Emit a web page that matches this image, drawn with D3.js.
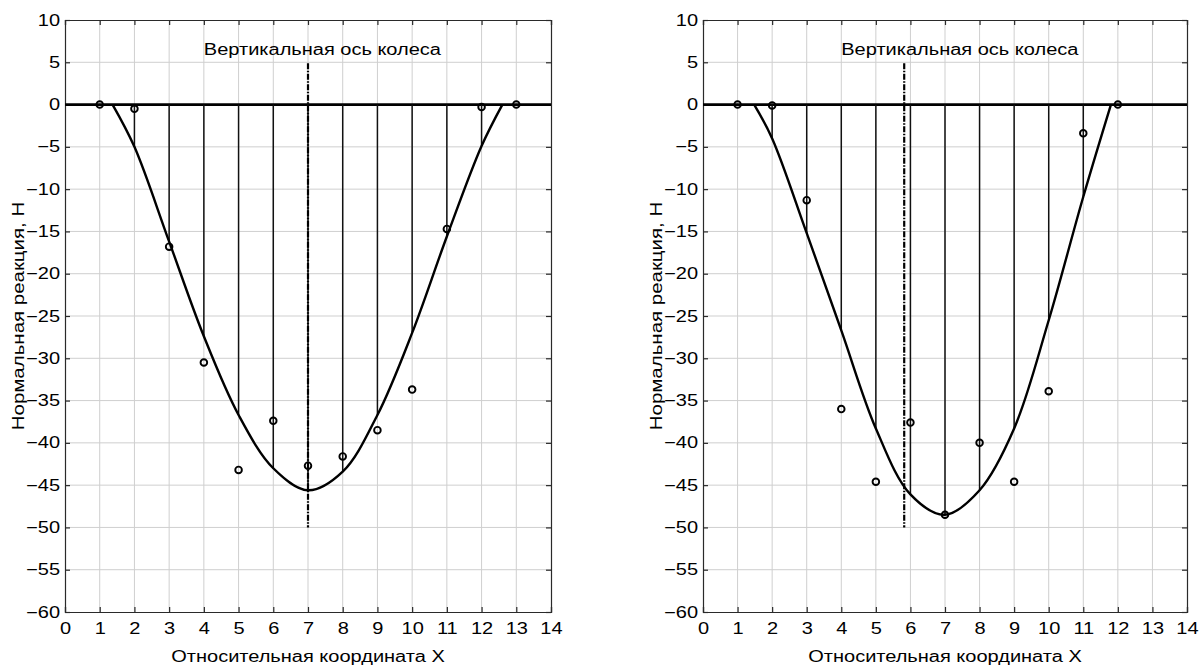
<!DOCTYPE html>
<html lang="ru">
<head>
<meta charset="utf-8">
<title>Нормальная реакция</title>
<script src="https://cdn.jsdelivr.net/npm/d3@7"></script>
<style>
  html, body { margin: 0; padding: 0; background: #fff; }
  svg { display: block; font-family: "Liberation Sans", Arial, Helvetica, sans-serif; }
</style>
</head>
<body>
<svg id="chart" width="1200" height="665"></svg>
<script>
// Axis ticks
const xTicks = [0, 1, 2, 3, 4, 5, 6, 7, 8, 9, 10, 11, 12, 13, 14];
const yTicks = [10, 5, 0, -5, -10, -15, -20, -25, -30, -35, -40, -45, -50, -55, -60];

// Left panel: measured reactions at each relative coordinate
const leftX = [1, 2, 3, 4, 5, 6, 7, 8, 9, 10, 11, 12, 13];
const leftMeasured = [0, -0.5, -16.8, -30.5, -43.2, -37.4, -42.7, -41.6, -38.5, -33.7, -14.7, -0.3, 0];
// Left panel: approximating curve (contact patch profile)
const leftCurveX = [1.37, 2, 3, 4, 5, 6, 7, 8, 9, 10, 11, 12, 12.6];
const leftCurveY = [0, -5.0, -16.2, -27.4, -36.7, -43.0, -45.6, -43.4, -36.7, -27.0, -15.6, -4.9, 0];
const leftWheelAxis = 7;

// Right panel
const rightX = [1, 2, 3, 4, 5, 6, 7, 8, 9, 10, 11, 12];
const rightMeasured = [0, -0.1, -11.3, -36.0, -44.6, -37.6, -48.5, -40.0, -44.6, -33.9, -3.4, 0];
const rightCurveX = [1.48, 2, 3, 4, 5, 6, 7, 8, 9, 10, 11, 11.8];
const rightCurveY = [0, -4.0, -15.2, -26.7, -38.3, -46.1, -48.5, -45.6, -38.3, -25.5, -10.9, 0];
const rightWheelAxis = 5.82;

// Wheel axis marker extent and caption
const axisLineTop = 4.9;
const axisLineBottom = -50;
const axisCaption = "Вертикальная ось колеса";
const captionX = 4;
const captionY = 5.9;

const xTitle = "Относительная координата X";
const yTitle = "Нормальная реакция, Н";

// Text is drawn slightly widened
const stretch = "scale(1.25,1)";
const fontSize = 16;

const svg = d3.select("#chart");

const panels = [
  { left: 65, right: 551, px: leftX, py: leftMeasured, cx: leftCurveX, cy: leftCurveY, axis: leftWheelAxis },
  { left: 703, right: 1187, px: rightX, py: rightMeasured, cx: rightCurveX, cy: rightCurveY, axis: rightWheelAxis }
];
const plotTop = 20, plotBottom = 612;

panels.forEach(p => {
  const x = d3.scaleLinear().domain([0, 14]).range([p.left, p.right]);
  const y = d3.scaleLinear().domain([-60, 10]).range([plotBottom, plotTop]);
  const g = svg.append("g");

  // grid
  g.append("g").selectAll("line").data(xTicks.slice(1, -1)).join("line")
    .attr("x1", d => x(d)).attr("x2", d => x(d)).attr("y1", plotTop).attr("y2", plotBottom)
    .attr("stroke", "#cfcfcf").attr("stroke-width", 1);
  g.append("g").selectAll("line").data(yTicks.slice(1, -1)).join("line")
    .attr("x1", p.left).attr("x2", p.right).attr("y1", d => y(d)).attr("y2", d => y(d))
    .attr("stroke", "#cfcfcf").attr("stroke-width", 1);

  // axes with inward ticks on all four sides
  const tl = 5;
  const axB = g.append("g").attr("transform", `translate(0,${plotBottom})`)
    .call(d3.axisBottom(x).tickValues(xTicks).tickSize(-tl).tickPadding(11).tickFormat(d3.format("d")));
  const axT = g.append("g").attr("transform", `translate(0,${plotTop})`)
    .call(d3.axisTop(x).tickValues(xTicks).tickSize(-tl).tickFormat(""));
  const axL = g.append("g").attr("transform", `translate(${p.left},0)`)
    .call(d3.axisLeft(y).tickValues(yTicks).tickSize(-tl).tickPadding(4).tickFormat(d3.format("d")));
  const axR = g.append("g").attr("transform", `translate(${p.right},0)`)
    .call(d3.axisRight(y).tickValues(yTicks).tickSize(-tl).tickFormat(""));
  [axB, axT, axL, axR].forEach(a => {
    a.select(".domain").attr("stroke", "#2a2a2a").attr("stroke-width", 1.2);
    a.selectAll(".tick line").attr("stroke", "#2a2a2a").attr("stroke-width", 1.2);
    a.selectAll("text").attr("font-size", fontSize).attr("fill", "#000")
      .attr("font-family", "'Liberation Sans', Arial, sans-serif")
      .attr("transform", stretch);
  });

  // zero line
  g.append("line")
    .attr("x1", p.left).attr("x2", p.right).attr("y1", y(0)).attr("y2", y(0))
    .attr("stroke", "#000").attr("stroke-width", 2.8);

  // stems from zero to the curve at integer positions
  const curvePts = p.cx.map((v, i) => [v, p.cy[i]]);
  const stems = curvePts.filter(d => Number.isInteger(d[0]) && d[1] !== 0);
  g.append("g").selectAll("line").data(stems).join("line")
    .attr("x1", d => x(d[0])).attr("x2", d => x(d[0]))
    .attr("y1", y(0)).attr("y2", d => y(d[1]))
    .attr("stroke", "#111").attr("stroke-width", 1.5);

  // wheel axis
  g.append("line")
    .attr("x1", x(p.axis)).attr("x2", x(p.axis))
    .attr("y1", y(axisLineTop)).attr("y2", y(axisLineBottom))
    .attr("stroke", "#000").attr("stroke-width", 2.2)
    .attr("stroke-dasharray", "6,1.5,1.5,1.5");

  // approximating curve
  g.append("path").datum(curvePts)
    .attr("fill", "none").attr("stroke", "#000").attr("stroke-width", 2.4)
    .attr("d", d3.line().x(d => x(d[0])).y(d => y(d[1])).curve(d3.curveCatmullRom.alpha(0.5)));

  // measured points
  g.append("g").selectAll("circle").data(p.px.map((v, i) => [v, p.py[i]])).join("circle")
    .attr("cx", d => x(d[0])).attr("cy", d => y(d[1])).attr("r", 3.3)
    .attr("fill", "none").attr("stroke", "#000").attr("stroke-width", 1.9);

  // caption
  g.append("text").attr("transform", `translate(${x(captionX)},${y(captionY)}) ${stretch}`)
    .attr("font-size", fontSize).attr("fill", "#000").text(axisCaption);

  // axis titles
  g.append("text").attr("transform", `translate(${(p.left + p.right) / 2},662) ${stretch}`)
    .attr("text-anchor", "middle").attr("font-size", fontSize).attr("fill", "#000").text(xTitle);
  g.append("text")
    .attr("transform", `translate(${p.left - 41},${(plotTop + plotBottom) / 2}) rotate(-90) scale(1.28,1)`)
    .attr("text-anchor", "middle").attr("font-size", fontSize).attr("fill", "#000").text(yTitle);
});
</script>
</body>
</html>
